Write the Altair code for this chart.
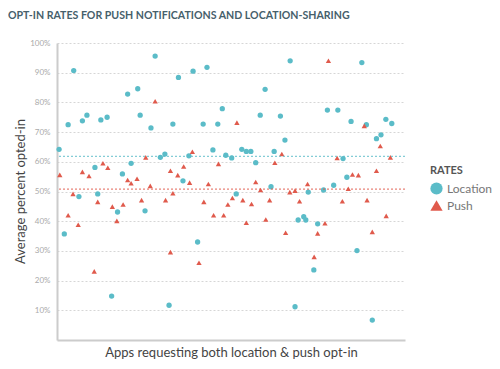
import altair as alt
import pandas as pd

# app position (0-100, arbitrary ordering along x) and opt-in rate (%)
loc_x = [4.8, 3.2, 7.3, 8.6, 12.6, 14.4, 0.6, 10.9, 18.8, 6.3, 11.7, 17.4, 2.1, 15.7,
         28.2, 20.3, 23.2, 34.9, 39.1, 23.9, 27.0, 33.3, 21.3, 29.7, 31.0, 37.9, 36.2, 25.3, 32.2,
         43.1, 47.5, 58.4, 42.0, 46.2, 44.8, 48.5, 50.2, 53.1, 54.4, 55.7, 57.1, 51.5, 40.4,
         67.0, 59.8, 64.2, 77.7, 65.5, 62.4, 61.5, 72.2, 76.6, 69.3, 70.9, 71.5, 74.9, 73.8, 68.4,
         87.6, 80.7, 84.5, 88.9, 94.5, 96.2, 91.8, 93.1, 82.2, 83.3, 79.5, 86.2, 90.6]
loc_y = [90.7, 72.5, 73.8, 75.7, 74.1, 75.0, 64.2, 58.1, 55.9, 48.3, 49.2, 43.1, 35.7, 14.8,
         95.6, 82.8, 84.6, 88.4, 90.5, 75.7, 71.4, 72.7, 59.5, 61.5, 62.6, 62.0, 53.6, 43.5, 11.7,
         91.8, 77.9, 75.7, 72.7, 72.7, 64.0, 62.2, 61.3, 64.2, 63.5, 63.5, 59.7, 49.2, 33.0,
         94.0, 84.4, 75.4, 77.4, 67.3, 63.5, 51.6, 49.8, 50.5, 40.4, 41.5, 40.4, 39.1, 23.6, 11.2,
         93.4, 77.4, 73.6, 72.5, 74.3, 72.9, 67.8, 69.1, 61.1, 54.8, 52.1, 30.1, 6.7]

push_x = [0.8, 4.6, 3.2, 6.1, 7.3, 9.2, 13.2, 14.6, 11.7, 15.9, 17.2, 19.0, 10.7,
          28.2, 25.5, 38.9, 20.3, 21.3, 23.0, 26.8, 24.3, 31.2, 33.3, 32.6, 34.7, 36.4, 38.1, 32.6,
          51.7, 46.4, 43.5, 42.2, 45.0, 47.9, 49.1, 50.4, 53.4, 55.9, 54.4, 57.1, 58.5, 40.8,
          78.0, 64.6, 62.6, 61.1, 66.9, 68.4, 69.7, 72.0, 60.0, 65.7, 74.9, 77.0, 73.9,
          88.3, 92.9, 80.5, 95.8, 84.9, 86.6, 91.8, 83.7, 82.0, 89.1, 94.6, 90.6]
push_y = [55.6, 49.2, 42.0, 38.8, 56.6, 55.2, 59.5, 58.0, 46.5, 44.9, 40.1, 45.6, 23.1,
          80.4, 61.5, 63.4, 53.9, 52.8, 54.3, 51.9, 47.1, 47.1, 49.4, 57.0, 55.5, 58.4, 53.0, 29.6,
          73.2, 59.3, 52.5, 46.5, 42.0, 42.0, 45.6, 47.8, 47.1, 45.8, 39.5, 53.2, 50.5, 26.0,
          94.0, 62.6, 59.7, 47.1, 49.8, 50.3, 46.7, 52.5, 40.6, 36.1, 35.9, 39.3, 28.0,
          72.1, 65.3, 61.3, 61.5, 55.7, 55.5, 57.0, 50.9, 46.7, 47.1, 41.8, 36.4]

series = ["Location", "Push"]
colors = ["#5bbcc8", "#e05a4c"]
mean_vals = [61.8, 50.8]
y_ticks = [10, 20, 30, 40, 50, 60, 70, 80, 90, 100]

df = pd.concat([
    pd.DataFrame({"app": loc_x, "rate": loc_y, "type": "Location"}),
    pd.DataFrame({"app": push_x, "rate": push_y, "type": "Push"}),
])

x_scale = alt.Scale(domain=[0, 100], nice=False, zero=False)
y_scale = alt.Scale(domain=[0, 100], nice=False)

y_axis = alt.Axis(title="Average percent opted-in", values=y_ticks,
                  labelExpr="datum.value + '%'", ticks=False, tickSize=0,
                  labelOverlap=False, labelPadding=7, labelFont="Lato", labelFontSize=8,
                  labelColor="#aaaaaa", domainColor="#cccccc", domainWidth=2,
                  gridColor="#d6d6d6", gridDash=[2, 2], gridWidth=1,
                  titleFont="Lato", titleFontSize=13, titleFontWeight="normal",
                  titleColor="#444444", titleX=-37, titleY=148, titleAngle=270,
                  titleAlign="center", titleBaseline="middle")

points = alt.Chart(df).mark_point(filled=True, size=28, opacity=1).encode(
    x=alt.X("app:Q", scale=x_scale,
            axis=alt.Axis(title="Apps requesting both location & push opt-in", labels=False,
                          ticks=False, grid=False, domainColor="#cccccc", domainWidth=2,
                          titleFont="Lato", titleFontSize=13, titleFontWeight="normal",
                          titleColor="#444444", titlePadding=6)),
    y=alt.Y("rate:Q", scale=y_scale, axis=y_axis),
    color=alt.Color("type:N", scale=alt.Scale(domain=series, range=colors),
                    legend=alt.Legend(title="RATES", orient="none", legendX=373, legendY=122,
                                      titleFont="Lato", titleFontSize=11, titleFontWeight="bold",
                                      titleColor="#555555", labelFont="Lato", labelFontSize=12,
                                      labelColor="#777777", symbolSize=150, symbolStrokeWidth=0,
                                      rowPadding=4, titlePadding=6)),
    shape=alt.Shape("type:N", scale=alt.Scale(domain=series, range=["circle", "triangle-up"]),
                    legend=alt.Legend(title="RATES", orient="none", legendX=373, legendY=122)),
)

rule_loc = alt.Chart(pd.DataFrame({"rate": [mean_vals[0]]})).mark_rule(
    strokeDash=[2, 2], strokeWidth=1.2, opacity=0.75, color=colors[0]
).encode(y=alt.Y("rate:Q", scale=y_scale, axis=y_axis))
rule_push = alt.Chart(pd.DataFrame({"rate": [mean_vals[1]]})).mark_rule(
    strokeDash=[2, 2], strokeWidth=1.2, opacity=0.75, color=colors[1]
).encode(y=alt.Y("rate:Q", scale=y_scale, axis=y_axis))

chart = alt.layer(points, rule_loc, rule_push).properties(
    width=348, height=297,
    autosize=alt.AutoSizeParams(type="none"),
    padding={"left": 49, "top": 35, "right": 87, "bottom": 20},
    title=alt.Title("OPT-IN RATES FOR PUSH NOTIFICATIONS AND LOCATION-SHARING",
                    anchor="start", frame="group", dx=-49, offset=17,
                    font="Lato", fontSize=10.6, fontWeight="bold", color="#46606b"),
).configure_view(stroke=None)

chart.save("out.html", embed_options={"renderer": "svg", "actions": False})
